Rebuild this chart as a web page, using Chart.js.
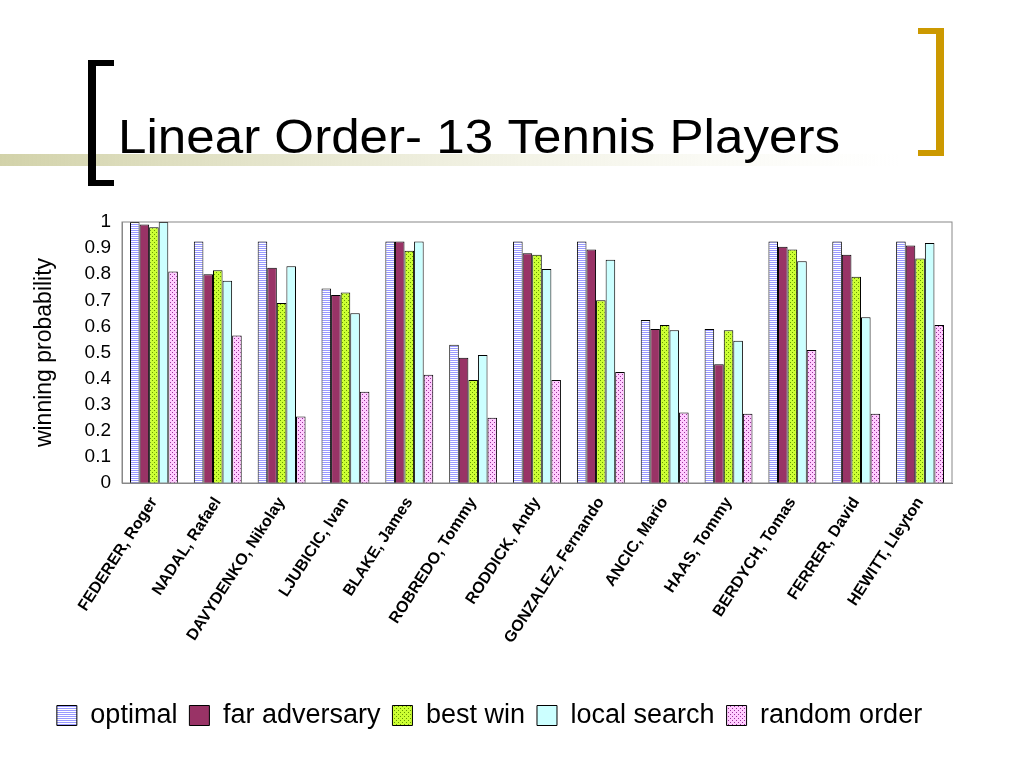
<!DOCTYPE html>
<html><head><meta charset="utf-8">
<script src="https://cdn.jsdelivr.net/npm/chart.js@4"></script>
<style>body{margin:0;background:#fff}canvas{display:block}</style>
</head><body>
<canvas id="c" width="1024" height="768"></canvas>
<script>
const categories = ["FEDERER, Roger","NADAL, Rafael","DAVYDENKO, Nikolay","LJUBICIC, Ivan","BLAKE, James","ROBREDO, Tommy","RODDICK, Andy","GONZALEZ, Fernando","ANCIC, Mario","HAAS, Tommy","BERDYCH, Tomas","FERRER, David","HEWITT, Lleyton"];
const optimal      = [1.00,0.925,0.925,0.745,0.925,0.53,0.925,0.925,0.625,0.59,0.925,0.925,0.925];
const farAdversary = [0.99,0.80,0.825,0.72,0.925,0.48,0.88,0.895,0.59,0.455,0.905,0.875,0.91];
const bestWin      = [0.98,0.815,0.69,0.73,0.89,0.395,0.875,0.70,0.605,0.585,0.895,0.79,0.86];
const localSearch  = [1.00,0.775,0.83,0.65,0.925,0.49,0.82,0.855,0.585,0.545,0.85,0.635,0.92];
const randomOrder  = [0.81,0.565,0.255,0.35,0.415,0.25,0.395,0.425,0.27,0.265,0.51,0.265,0.605];
const yTicks = [0,0.1,0.2,0.3,0.4,0.5,0.6,0.7,0.8,0.9,1];

function pat(bg, fg, kind){
  const p=document.createElement('canvas');p.width=4;p.height=4;const x=p.getContext('2d');
  x.fillStyle=bg;x.fillRect(0,0,4,4);x.fillStyle=fg;
  if(kind==='h'){x.fillRect(0,0,4,1);x.fillRect(0,2,4,1);}
  else if(kind==='d'){x.fillRect(0,0,1,1);x.fillRect(2,2,1,1);}
  return document.getElementById('c').getContext('2d').createPattern(p,'repeat');
}
const deco={id:'deco',beforeDraw(ch){const c=ch.ctx;c.save();
  const g=c.createLinearGradient(0,0,900,0);g.addColorStop(0,'rgba(205,205,160,0.9)');g.addColorStop(1,'rgba(235,235,210,0)');
  c.fillStyle=g;c.fillRect(0,154,900,12);
  c.fillStyle='#000';c.fillRect(88,60,8,126);c.fillRect(88,60,26,6);c.fillRect(88,180,26,6);
  c.fillStyle='#cc9900';c.fillRect(936,28,8,128);c.fillRect(918,28,26,6);c.fillRect(918,150,26,6);
  c.fillStyle='#000';c.font='44px "Liberation Sans", Arial';c.textBaseline='alphabetic';
  const t='Linear Order- 13 Tennis Players';const w=c.measureText(t).width;
  c.translate(118,153);c.scale(722/w,1.08);c.fillText(t,0,0);
  c.restore();}};
const ds=(label,data,bg)=>({label,data,backgroundColor:bg,borderColor:'#000',borderWidth:1,categoryPercentage:0.75,barPercentage:1});
new Chart(document.getElementById('c'),{type:'bar',
 data:{labels:categories,datasets:[
  ds('optimal',optimal,pat('#ffffff','#9999ff','h')),
  ds('far adversary',farAdversary,'#993366'),
  ds('best win',bestWin,pat('#ccff33','#669900','d')),
  ds('local search',localSearch,'#ccffff'),
  ds('random order',randomOrder,pat('#ffccff','#993399','d'))]},
 options:{responsive:false,animation:false,
  layout:{padding:{top:222,right:72,left:27,bottom:29}},
  plugins:{legend:{position:'bottom',labels:{font:{size:27,family:'"Liberation Sans", Arial'},color:'#000',boxWidth:20,boxHeight:20,padding:12}},tooltip:{enabled:false}},
  scales:{
   y:{min:0,max:1,afterBuildTicks(s){s.ticks=yTicks.map(v=>({value:v}));},afterFit(s){s.width=95;},
      ticks:{font:{size:19,family:'"Liberation Sans", Arial'},color:'#000',callback:v=>String(v)},
      grid:{display:false},border:{color:'#888'},
      title:{display:true,text:'winning probability',font:{size:23,family:'"Liberation Sans", Arial'},color:'#000'}},
   x:{afterFit(s){s.height=207;},grid:{display:false},border:{color:'#888'},
      ticks:{minRotation:57,maxRotation:57,font:{size:16,weight:'bold',family:'"Liberation Sans", Arial'},color:'#000'}}
  }},
 plugins:[deco,{id:'frame',afterDraw(ch){const a=ch.chartArea,c=ch.ctx;c.save();c.strokeStyle='#888';c.strokeRect(a.left,a.top,a.right-a.left,a.bottom-a.top);c.restore();}}]
});
</script></body></html>
